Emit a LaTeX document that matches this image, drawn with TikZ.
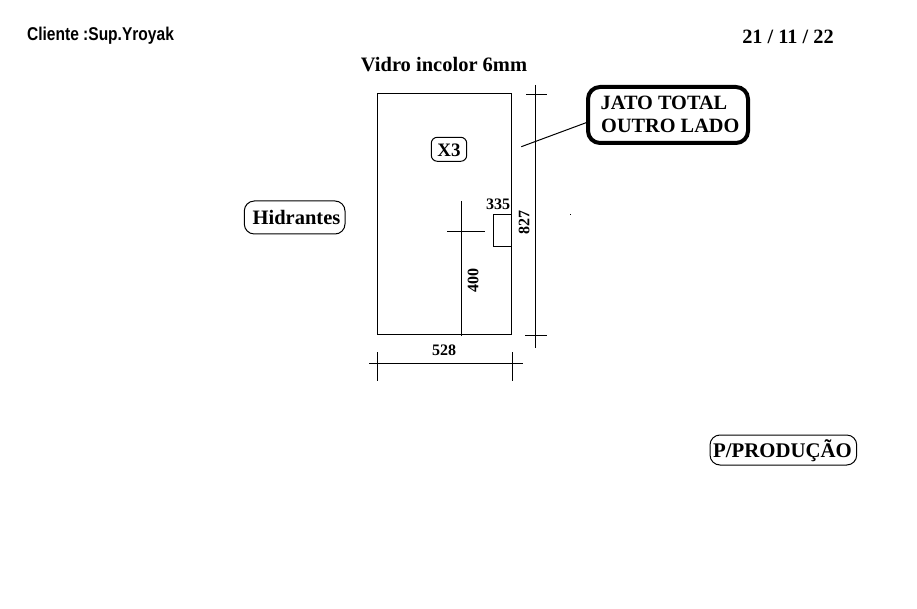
\documentclass[tikz,border=0pt]{standalone}
\usepackage{fontspec}
\setmainfont{Liberation Serif}
\newfontfamily\sansb{Liberation Sans}
\tikzset{
  px/.style={x=1pt,y=-1pt},
  dim/.style={draw=black,line width=1pt},
  txt/.style={inner sep=0pt,font=\bfseries,text=black},
  box/.style={draw=black,line width=1pt,inner sep=0pt,outer sep=0pt,anchor=north west},
  tag/.style={box,rounded corners=6pt},
}
\begin{document}
\begin{tikzpicture}[px]
\useasboundingbox (0,0) rectangle (917,609);
\fill[white] (0,0) rectangle (917,609);
% titles
\node[txt,font=\sansb\bfseries\fontsize{18.5}{20}\selectfont,xscale=.84] (cliente) at (100.5,36) {Cliente :Sup.Yroyak};
\node[txt,font=\bfseries\fontsize{20.3}{22}\selectfont] (data) at (788,37) {21 / 11 / 22};
\node[txt,font=\bfseries\fontsize{20.5}{22}\selectfont] (titulo) at (444,65) {Vidro incolor 6mm};
% glass
\node[box,minimum width=134.4pt,minimum height=241pt] (vidro) at (377.3,93.3) {};
\node[box,minimum width=18pt,minimum height=32pt] (recorte) at (493.3,214.3) {};
% position lines
\coordinate (va) at (461.3,201); \coordinate (vb) at (461.3,336);
\coordinate (ha) at (447.3,231.7); \coordinate (hb) at (485,231.7);
\draw[dim] (va) -- (vb);
\draw[dim] (ha) -- (hb);
% height dimension
\coordinate (ra) at (535.3,85); \coordinate (rb) at (535.3,347.7);
\coordinate (rta) at (526,94.3); \coordinate (rtb) at (546.7,94.3);
\coordinate (rba) at (525,335.3); \coordinate (rbb) at (547,335.3);
\draw[dim] (ra) -- (rb);
\draw[dim] (rta) -- (rtb);
\draw[dim] (rba) -- (rbb);
% width dimension
\coordinate (ba) at (369,363.3); \coordinate (bb) at (522.7,363.3);
\coordinate (bla) at (377.3,352); \coordinate (blb) at (377.3,380.7);
\coordinate (bra) at (512,352); \coordinate (brb) at (512,381);
\draw[dim] (ba) -- (bb);
\draw[dim] (bla) -- (blb);
\draw[dim] (bra) -- (brb);
% labels
\node[txt,font=\bfseries\fontsize{16}{18}\selectfont] (m335) at (498,204.5) {335};
\node[txt,font=\bfseries\fontsize{16}{18}\selectfont,rotate=90] (m827) at (524,223) {827};
\node[txt,font=\bfseries\fontsize{16}{18}\selectfont,rotate=90] (m400) at (473,281) {400};
\node[txt,font=\bfseries\fontsize{16}{18}\selectfont] (m528) at (444,350) {528};
% tags
\node[tag,minimum width=35.4pt,minimum height=24pt] (x3) at (431.3,137.3) {};
\node[txt,font=\bfseries\fontsize{19}{22}\selectfont] (x3t) at (449,150) {X3};
\node[tag,minimum width=100.7pt,minimum height=33pt,rounded corners=10pt] (hid) at (244.3,201) {};
\node[txt,font=\bfseries\fontsize{20.5}{22}\selectfont] (hidt) at (296.5,217.5) {Hidrantes};
\node[tag,minimum width=146.7pt,minimum height=30pt,rounded corners=10pt] (prod) at (710,435) {};
\node[txt,font=\bfseries\fontsize{20.8}{22}\selectfont] (prodt) at (782.5,451) {P/PRODUÇÃO};
\node[tag,line width=4pt,minimum width=160pt,minimum height=56pt,rounded corners=12pt] (jato) at (588,87) {};
\node[txt,font=\bfseries\fontsize{20.3}{22}\selectfont,anchor=west] (l1) at (600.5,103) {JATO TOTAL};
\node[txt,font=\bfseries\fontsize{20.3}{22}\selectfont,anchor=west] (l2) at (601,126) {OUTRO LADO};
% leader
\coordinate (lead) at (521.3,146.7);
\draw[line width=1pt] (lead) -- (jato.west |- 0,122);
% speck
\coordinate (sp) at (569.5,214);
\fill[black] (sp) rectangle ++(1.5,1);
\end{tikzpicture}
\end{document}
